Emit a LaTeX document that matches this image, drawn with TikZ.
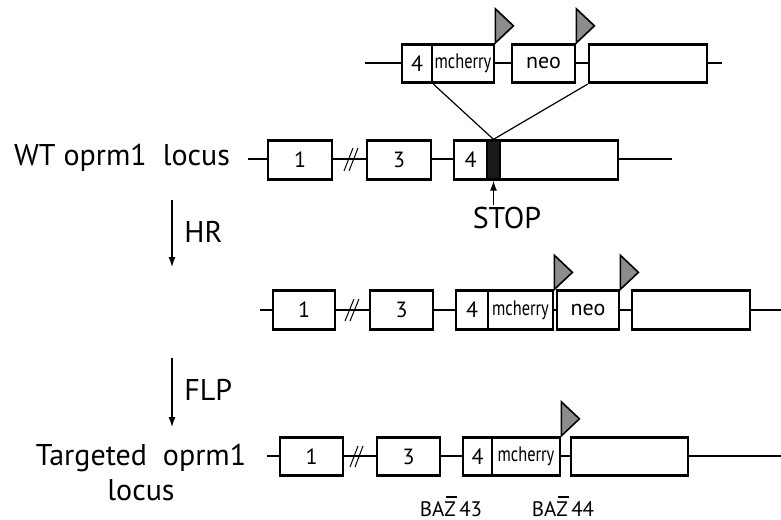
\documentclass[tikz,border=0pt]{standalone}
\usepackage{fontspec}
\setmainfont{PT Sans}
\usetikzlibrary{arrows.meta}
\definecolor{flaggray}{HTML}{8C8C8C}
% Z with a bar over it, for the primer names
\newcommand{\zbar}{\rlap{\hspace{0.08em}\rule[0.86em]{0.5em}{0.07em}}Z}
\newcommand{\narrow}[1]{\scalebox{0.78}[1]{#1}}
\tikzset{
  exon/.style={draw, fill=white, line width=1.4pt, minimum height=19.25pt,
    inner sep=0pt, font=\fontsize{11}{12}\selectfont},
  small/.style={font=\fontsize{10.5}{11}\selectfont},
  locus/.style={line width=1.1pt},
  frt/.style={draw, fill=flaggray, line width=0.8pt, line join=miter},
  brk/.style={line width=0.5pt},
  cross/.style={line width=0.6pt},
  stage/.style={-{Latex[length=5pt,width=3.5pt]}, line width=0.6pt},
  locuslabel/.style={inner sep=0.5pt, font=\fontsize{15}{17.5}\selectfont},
  primer/.style={inner sep=0.5pt, font=\fontsize{10.5}{12}\selectfont}
}

\begin{document}
\begin{tikzpicture}[x=0.5pt, y=-0.5pt]
\useasboundingbox (0,0) rectangle (781,519);

% targeting vector
\coordinate (cL) at (365,63);
\coordinate (cR) at (722,63);
\draw[locus] (cL) -- (cR);
\node[exon, minimum width=15pt] (c4) at (417,63.5) {4};
\node[exon, small, minimum width=31pt] (cmch) at (463,63.5) {\narrow{mcherry}};
\node[exon, minimum width=31.5pt] (cneo) at (543.5,63.5) {neo};
\node[exon, minimum width=59pt] (cutr) at (648,63.5) {};
\draw[frt] (cmch.north east) -- ++(0,-34) -- ++(18,17) -- cycle;
\draw[frt] (cneo.north east) -- ++(0,-34) -- ++(18,17) -- cycle;

% wild type
\node[locuslabel, anchor=base] (wt) at (122,165) {WT oprm1\ \ locus};
\coordinate (wL) at (248,159);
\coordinate (wR) at (672,159);
\draw[locus] (wL) -- (wR);
\draw[brk] (344,171) -- (353,148) (349,171) -- (358,148);
\node[exon, minimum width=32pt] (w1) at (300,160) {1};
\node[exon, minimum width=32pt] (w3) at (399,160) {3};
\node[exon, minimum width=16.5pt] (w4) at (470.5,160) {4};
\node[exon, fill=black!90, minimum width=6.5pt] (wstop) at (493.5,160) {};
\node[exon, minimum width=59pt] (wutr) at (559,160) {};
\draw[cross] (c4.south east) -- (wstop.north);
\draw[cross] (cutr.south west) -- (wstop.north);
\node[locuslabel, anchor=base] (stop) at (507,228) {STOP};
\draw[stage] (stop.north -| wstop.south) -- (wstop.south);

% homologous recombination
\coordinate (hrA) at (172,200);
\coordinate (hrB) at (172,267);
\draw[stage] (hrA) -- (hrB);
\node[locuslabel, anchor=base west] (hr) at (183,242) {HR};

\coordinate (hL) at (260,310);
\coordinate (hR) at (781,310);
\draw[locus] (hL) -- (hR);
\draw[brk] (345,321) -- (354,299) (350,321) -- (359,299);
\node[exon, minimum width=31pt] (h1) at (304,310) {1};
\node[exon, minimum width=31.5pt] (h3) at (401.5,310) {3};
\node[exon, minimum width=16pt] (h4) at (472,310) {4};
\node[exon, small, minimum width=32.5pt] (hmch) at (520.5,310) {\narrow{mcherry}};
\node[exon, minimum width=31pt] (hneo) at (588,310) {neo};
\node[exon, minimum width=59pt] (hutr) at (691,310) {};
\draw[frt] (hmch.north east) -- ++(0,-34) -- ++(18,17) -- cycle;
\draw[frt] (hneo.north east) -- ++(0,-34) -- ++(18,17) -- cycle;

% flp excision
\coordinate (flpA) at (172,358);
\coordinate (flpB) at (172,427);
\draw[stage] (flpA) -- (flpB);
\node[locuslabel, anchor=base west] (flp) at (183,400) {FLP};

\node[locuslabel, anchor=base, align=center] (tg) at (141,500) {Targeted\ \ oprm1\\locus};
\coordinate (tL) at (267,456);
\coordinate (tR) at (781,456);
\draw[locus] (tL) -- (tR);
\draw[brk] (350,467) -- (358,446) (355,467) -- (363,446);
\node[exon, minimum width=31.5pt] (t1) at (311.5,456.5) {1};
\node[exon, minimum width=31.5pt] (t3) at (408.5,456.5) {3};
\node[exon, minimum width=14.5pt] (t4) at (477.5,456.5) {4};
\node[exon, small, minimum width=34pt] (tmch) at (526,456.5) {\narrow{mcherry}};
\node[exon, minimum width=58.5pt] (tutr) at (629.5,456.5) {};
\draw[frt] (tmch.north east) -- ++(0,-34) -- ++(18,17) -- cycle;

% genotyping primers
\node[primer, anchor=base] (baz43) at (451,516) {BA\zbar\,43};
\node[primer, anchor=base] (baz44) at (563,516) {BA\zbar\,44};
\end{tikzpicture}
\end{document}
